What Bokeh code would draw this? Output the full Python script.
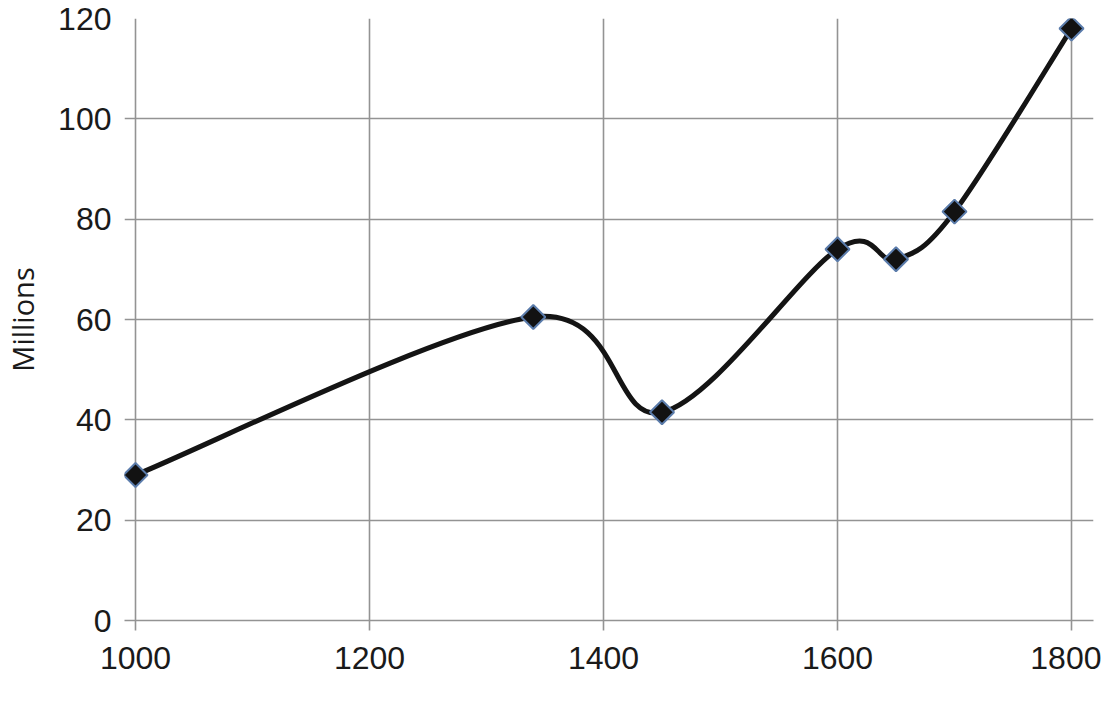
import numpy as np
from bokeh.plotting import figure
from bokeh.models import Range1d, FixedTicker
from bokeh.embed import file_html
from bokeh.resources import INLINE

# Data
years = [1000, 1340, 1450, 1600, 1650, 1700, 1800]
millions = [29, 60.5, 41.5, 74, 72, 81.5, 118]
x_ticks = [1000, 1200, 1400, 1600, 1800]
y_ticks = [0, 20, 40, 60, 80, 100, 120]

GRID = "#939393"
TEXT = "#1a1a1a"

# frame starts ~11px left of x=1000 so the y "ticks" are gridline stubs
p = figure(
    frame_width=969, frame_height=602,
    min_border_left=124, min_border_right=8, min_border_top=18, min_border_bottom=78,
    x_range=Range1d(990.6, 1818.8), y_range=Range1d(0, 120),
    output_backend="svg", toolbar_location=None,
)
p.outline_line_color = None
p.background_fill_color = "white"

p.xgrid.ticker = FixedTicker(ticks=x_ticks)
p.ygrid.ticker = FixedTicker(ticks=y_ticks)
p.grid.grid_line_color = GRID
p.grid.grid_line_width = 1.6
p.grid.grid_line_alpha = 1.0

# Smoothed line (Catmull-Rom -> cubic Bezier, like spreadsheet "smoothed line")
xs = np.array(years, dtype=float)
ys = np.array(millions, dtype=float)
n = len(xs)
px = np.concatenate([[xs[0]], xs, [xs[-1]]])
py = np.concatenate([[ys[0]], ys, [ys[-1]]])
x0 = xs[:-1]; y0 = ys[:-1]; x1 = xs[1:]; y1 = ys[1:]
cx0 = x0 + (px[2:n + 1] - px[0:n - 1]) / 6.0
cy0 = y0 + (py[2:n + 1] - py[0:n - 1]) / 6.0
cx1 = x1 - (px[3:n + 2] - px[1:n]) / 6.0
cy1 = y1 - (py[3:n + 2] - py[1:n]) / 6.0
p.bezier(x0=x0, y0=y0, x1=x1, y1=y1, cx0=cx0, cy0=cy0, cx1=cx1, cy1=cy1,
         line_color="#141414", line_width=5, line_cap="round")

p.scatter(years, millions, marker="square", angle=np.pi / 4, size=17,
          fill_color="#121212", line_color="#5b7cab", line_width=2)

# Axes
p.xaxis.ticker = FixedTicker(ticks=x_ticks)
p.yaxis.ticker = FixedTicker(ticks=y_ticks)
for ax in (p.xaxis[0], p.yaxis[0]):
    ax.major_tick_line_color = GRID
    ax.major_tick_line_width = 1.6
    ax.major_tick_in = 0
    ax.minor_tick_line_color = None
    ax.major_label_text_font = "Liberation Sans"
    ax.major_label_text_font_size = "32px"
    ax.major_label_text_color = TEXT

p.xaxis.axis_line_color = GRID
p.xaxis.axis_line_width = 1.6
p.xaxis.major_tick_out = 10
p.xaxis.major_label_standoff = 16

p.yaxis.axis_line_color = None
p.yaxis.major_tick_line_color = None
p.yaxis.major_tick_out = 0
p.yaxis.major_label_standoff = 13

p.yaxis.axis_label = "Millions"
p.yaxis.axis_label_text_font = "Open Sans"
p.yaxis.axis_label_text_font_size = "29px"
p.yaxis.axis_label_text_font_style = "normal"
p.yaxis.axis_label_text_color = TEXT
p.yaxis.axis_label_standoff = 13

open("out.html", "w").write(file_html(p, INLINE))
